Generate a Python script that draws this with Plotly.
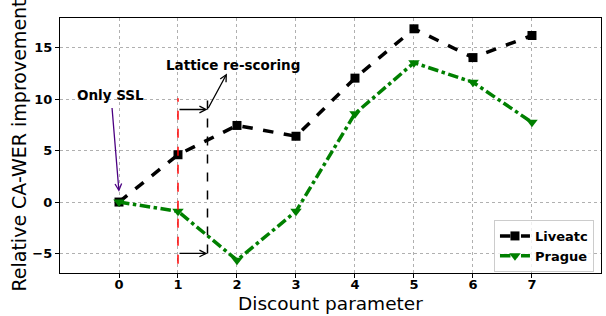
import plotly.graph_objects as go

discount = [0, 1, 2, 3, 4, 5, 6, 7]
liveatc = [0, 4.6, 7.45, 6.4, 12.05, 16.85, 14.05, 16.2]
prague = [0, -0.9, -5.65, -0.9, 8.6, 13.55, 11.65, 7.75]
x_ticks = [0, 1, 2, 3, 4, 5, 6, 7]
y_ticks = [-5, 0, 5, 10, 15]

# annotation geometry (data coordinates)
red_line_x = 1
red_line_y = [-6.0, 10.1]
black_line_x = 1.5
black_line_y = [-5.0, 10.0]
shift_arrow_y = [9, -5]
lattice_text = (1.93, 13.3)
lattice_arrow_tip = (1.83, 12.5)
ssl_text = (-0.15, 10.4)
ssl_arrow_tail = (-0.12, 9.3)
ssl_arrow_tip = (0.0, 1.0)

font = "DejaVu Sans"

fig = go.Figure()
fig.add_trace(go.Scatter(
    x=discount, y=liveatc, name="Liveatc", mode="lines+markers",
    line=dict(color="black", width=3.5, dash="dash"),
    marker=dict(symbol="square", size=9, color="black"),
))
fig.add_trace(go.Scatter(
    x=discount, y=prague, name="Prague", mode="lines+markers",
    line=dict(color="green", width=3.5, dash="dashdot"),
    marker=dict(symbol="triangle-down", size=10, color="green"),
))

fig.add_shape(type="line", x0=red_line_x, x1=red_line_x, y0=red_line_y[0], y1=red_line_y[1],
              xref="x", yref="y", line=dict(color="red", width=1.5, dash="dash"))
fig.add_shape(type="line", x0=black_line_x, x1=black_line_x, y0=black_line_y[0], y1=black_line_y[1],
              xref="x", yref="y", line=dict(color="black", width=1.5, dash="dash"))

for yy in shift_arrow_y:
    fig.add_annotation(x=black_line_x, y=yy, ax=red_line_x, ay=yy, xref="x", yref="y",
                       axref="x", ayref="y", text="", showarrow=True, arrowhead=5,
                       arrowsize=1, arrowwidth=1.3, arrowcolor="black")

fig.add_annotation(x=lattice_arrow_tip[0], y=lattice_arrow_tip[1], ax=black_line_x, ay=shift_arrow_y[0],
                   xref="x", yref="y", axref="x", ayref="y", text="", showarrow=True,
                   arrowhead=5, arrowsize=1, arrowwidth=1.3, arrowcolor="black")
fig.add_annotation(x=lattice_text[0], y=lattice_text[1], xref="x", yref="y", text="<b>Lattice re-scoring</b>",
                   showarrow=False, font=dict(family=font, size=13.5, color="black"))

fig.add_annotation(x=ssl_arrow_tip[0], y=ssl_arrow_tip[1], ax=ssl_arrow_tail[0], ay=ssl_arrow_tail[1],
                   xref="x", yref="y", axref="x", ayref="y", text="", showarrow=True,
                   arrowhead=5, arrowsize=1, arrowwidth=1.3, arrowcolor="#4b0082")
fig.add_annotation(x=ssl_text[0], y=ssl_text[1], xref="x", yref="y", text="<b>Only SSL</b>",
                   showarrow=False, font=dict(family=font, size=13.5, color="black"))

# x-axis title placed just below the tick labels
fig.add_annotation(x=0.5, y=-0.12, xref="paper", yref="paper", text="Discount parameter",
                   showarrow=False, yanchor="middle", xanchor="center",
                   font=dict(family=font, size=18.5, color="black"))

fig.update_layout(
    width=606, height=316,
    margin=dict(l=60, r=5, t=18, b=43),
    paper_bgcolor="white", plot_bgcolor="white",
    font=dict(family=font, color="black"),
    showlegend=True,
    legend=dict(x=0.987, y=0.004, xanchor="right", yanchor="bottom",
                bordercolor="#cccccc", borderwidth=1, bgcolor="rgba(255,255,255,0.8)",
                font=dict(family=font, size=13, color="black", weight="bold"),
                tracegroupgap=0, itemwidth=30),
)
fig.update_xaxes(
    automargin=False,
    range=[-1.0, 8.17], tickvals=x_ticks, ticktext=[str(t) for t in x_ticks],
    showgrid=True, gridcolor="#b0b0b0", griddash="dot", gridwidth=1,
    showline=True, linecolor="black", linewidth=1.2, mirror=True,
    ticks="outside", ticklen=4, tickcolor="black", zeroline=False,
    ticklabelstandoff=-5,
    tickfont=dict(family=font, size=13, weight="bold", color="black"),
)
fig.update_yaxes(
    automargin=False,
    range=[-6.9, 17.9], tickvals=y_ticks, ticktext=["−5", "0", "5", "10", "15"],
    showgrid=True, gridcolor="#b0b0b0", griddash="dot", gridwidth=1,
    showline=True, linecolor="black", linewidth=1.2, mirror=True,
    ticks="outside", ticklen=4, tickcolor="black", zeroline=False,
    tickfont=dict(family=font, size=13, weight="bold", color="black"),
    title=dict(text="Relative CA-WER improvement", font=dict(family=font, size=19, color="black"), standoff=0),
)

fig.write_html("out.html", post_script="document.body.style.margin='0px';",
               config={"displayModeBar": False})
